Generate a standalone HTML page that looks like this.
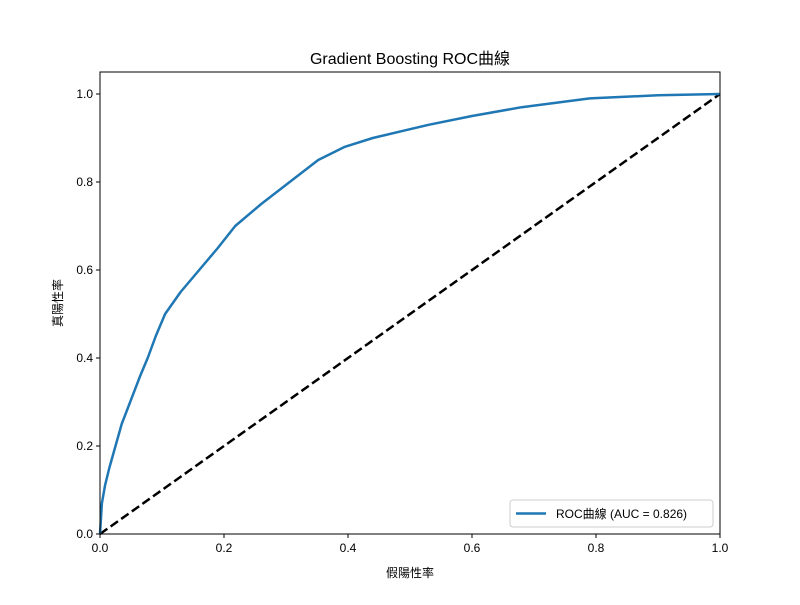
<!DOCTYPE html>
<html><head><meta charset="utf-8"><style>
body{margin:0;background:#fff;}
svg text{font-family:"Liberation Sans","Noto Sans CJK TC",sans-serif;fill:#000;}
</style></head><body>
<svg width="800" height="600">
<g id="g"></g>
</svg>
<script>
const fprValues=[0,0.003,0.008,0.015,0.025,0.035,0.05,0.065,0.077,0.09,0.105,0.13,0.16,0.19,0.218,0.26,0.306,0.352,0.395,0.44,0.5,0.53,0.6,0.68,0.79,0.9,1.0];
const tprValues=[0,0.07,0.11,0.15,0.2,0.25,0.305,0.36,0.4,0.45,0.5,0.55,0.6,0.65,0.7,0.75,0.8,0.85,0.88,0.9,0.92,0.93,0.95,0.97,0.99,0.997,1.0];
const xTicks=["0.0","0.2","0.4","0.6","0.8","1.0"];
const yTicks=["0.0","0.2","0.4","0.6","0.8","1.0"];
const aucLabel="ROC曲線 (AUC = 0.826)";
const L=100,R=720,T=72,B=534;
const x=v=>L+(v-0)/(1.0)*(R-L);
const y=v=>534-v*440;
const g=document.getElementById('g');
const NS='http://www.w3.org/2000/svg';
function mk(tag,attrs,parent){const e=document.createElementNS(NS,tag);for(const k in attrs)e.setAttribute(k,attrs[k]);(parent||g).appendChild(e);return e;}
const title=mk('text',{x:410,y:64,'text-anchor':'middle','font-size':16});title.textContent='Gradient Boosting ROC曲線';


// diagonal
const diag=mk('line',{x1:x(0),y1:y(0),x2:x(1),y2:y(1),stroke:'#000','stroke-width':2.5,'stroke-dasharray':'9,4'});


// roc
let d='';fprValues.forEach((f,i)=>{d+=(i?'L':'M')+x(f).toFixed(1)+','+y(tprValues[i]).toFixed(1);});
const roc=mk('path',{d:d,fill:'none',stroke:'#1f77b4','stroke-width':2.5,'stroke-linejoin':'round'});


const frame=mk('rect',{x:L,y:T,width:R-L,height:B-T,fill:'none',stroke:'#000','stroke-width':1});


xTicks.forEach(t=>{const v=parseFloat(t);mk('line',{x1:x(v),x2:x(v),y1:B,y2:B+4,stroke:'#000'});
const tx=mk('text',{x:x(v),y:B+18,'text-anchor':'middle','font-size':12});tx.textContent=t;

});
yTicks.forEach(t=>{const v=parseFloat(t);mk('line',{x1:L-4,x2:L,y1:y(v),y2:y(v),stroke:'#000'});
const tx=mk('text',{x:L-7,y:y(v)+4,'text-anchor':'end','font-size':12});tx.textContent=t;

});
const xt=mk('text',{x:410,y:577,'text-anchor':'middle','font-size':12});xt.textContent='假陽性率';


const yt=mk('text',{x:0,y:0,'text-anchor':'middle','font-size':12,transform:'translate(62,303) rotate(-90)'});yt.textContent='真陽性率';


// legend
const lg=mk('rect',{x:510,y:500,width:203,height:27,rx:3,fill:'#fff',stroke:'#ccc'});


mk('line',{x1:516,x2:546,y1:513.5,y2:513.5,stroke:'#1f77b4','stroke-width':2.5});
const lt=mk('text',{x:556,y:518,'font-size':12});lt.textContent=aucLabel;


</script>
</body></html>
